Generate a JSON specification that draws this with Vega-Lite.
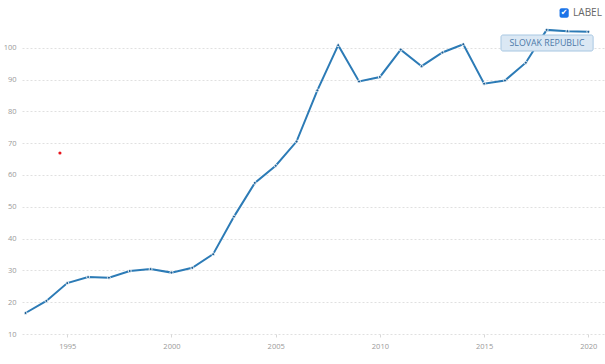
{
  "$schema": "https://vega.github.io/schema/vega-lite/v6.json",
  "width": 583,
  "height": 334,
  "autosize": {"type": "none"},
  "padding": {"left": 22, "top": 0, "right": 0, "bottom": 30},
  "background": "white",
  "config": {
    "view": {"stroke": null},
    "font": "Open Sans",
    "axis": {"labelOverlap": false, "labelFlush": false, "labelBound": false}
  },
  "datasets": {
    "series": [
      {"year": 1993, "value": 16.6},
      {"year": 1994, "value": 20.4},
      {"year": 1995, "value": 26.0},
      {"year": 1996, "value": 27.9},
      {"year": 1997, "value": 27.7},
      {"year": 1998, "value": 29.8},
      {"year": 1999, "value": 30.4},
      {"year": 2000, "value": 29.3},
      {"year": 2001, "value": 30.8},
      {"year": 2002, "value": 35.1},
      {"year": 2003, "value": 46.9},
      {"year": 2004, "value": 57.5},
      {"year": 2005, "value": 62.9},
      {"year": 2006, "value": 70.5},
      {"year": 2007, "value": 86.6},
      {"year": 2008, "value": 100.8},
      {"year": 2009, "value": 89.4},
      {"year": 2010, "value": 90.8},
      {"year": 2011, "value": 99.4},
      {"year": 2012, "value": 94.2},
      {"year": 2013, "value": 98.5},
      {"year": 2014, "value": 101.1},
      {"year": 2015, "value": 88.7},
      {"year": 2016, "value": 89.7},
      {"year": 2017, "value": 95.3},
      {"year": 2018, "value": 105.6},
      {"year": 2019, "value": 105.2},
      {"year": 2020, "value": 105.0}
    ],
    "marker": [
      {"year": 1994.65, "value": 66.9}
    ]
  },
  "encoding": {
    "y": {
      "type": "quantitative",
      "scale": {"domain": [10, 115], "nice": false, "zero": false},
      "axis": {
        "title": null,
        "values": [10, 20, 30, 40, 50, 60, 70, 80, 90, 100],
        "grid": true,
        "gridColor": "#e0e0e0",
        "gridDash": [2, 2],
        "gridWidth": 1,
        "domain": false,
        "ticks": false,
        "labelColor": "#999999",
        "labelFontSize": 7.5,
        "labelPadding": 6,
        "labelOverlap": false
      }
    }
  },
  "layer": [
    {
      "data": {"name": "series"},
      "mark": {"type": "line", "color": "#2c7bb6", "strokeWidth": 2, "clip": false},
      "encoding": {
        "x": {
          "field": "year", "type": "quantitative",
          "scale": {"domain": [1992.83, 2020.8], "nice": false, "zero": false},
          "axis": {
            "title": null,
            "values": [1995, 2000, 2005, 2010, 2015, 2020],
            "format": "d",
            "grid": false,
            "domain": false,
            "ticks": true,
            "tickSize": 3,
            "tickColor": "#d8d8d8",
            "labelColor": "#999999",
            "labelFontSize": 7.5,
            "labelPadding": 5
          }
        },
        "y": {"field": "value", "type": "quantitative"}
      }
    },
    {
      "data": {"name": "series"},
      "mark": {"type": "point", "filled": true, "size": 9, "color": "#1f5f94", "stroke": "white", "strokeWidth": 0.8, "opacity": 1},
      "encoding": {
        "x": {"field": "year", "type": "quantitative"},
        "y": {"field": "value", "type": "quantitative"}
      }
    },
    {
      "data": {"name": "marker"},
      "mark": {"type": "point", "filled": true, "size": 10, "color": "#e8141c", "opacity": 1},
      "encoding": {
        "x": {"field": "year", "type": "quantitative"},
        "y": {"field": "value", "type": "quantitative"}
      }
    },
    {
      "data": {"values": [{"country": "SLOVAK REPUBLIC"}]},
      "mark": {"type": "rect", "fill": "#dbe8f4", "stroke": "#a9c8e3", "strokeWidth": 1, "cornerRadius": 2, "opacity": 1},
      "encoding": {
        "x": {"datum": 2015.81, "type": "quantitative"},
        "x2": {"datum": 2020.23},
        "y": {"datum": 104.0, "type": "quantitative"},
        "y2": {"datum": 98.96}
      }
    },
    {
      "data": {"values": [{"country": "SLOVAK REPUBLIC"}]},
      "mark": {"type": "text", "color": "#4d79a8", "fontSize": 8.8, "align": "center", "baseline": "middle"},
      "encoding": {
        "x": {"datum": 2018.02, "type": "quantitative"},
        "y": {"datum": 101.5, "type": "quantitative"},
        "text": {"field": "country"}
      }
    },
    {
      "data": {"values": [{"label": "LABEL", "check": "✔"}]},
      "mark": {"type": "rect", "fill": "#1a73e8", "cornerRadius": 2, "opacity": 1, "clip": false},
      "encoding": {
        "x": {"datum": 2018.62, "type": "quantitative"},
        "x2": {"datum": 2019.06},
        "y": {"datum": 112.4, "type": "quantitative"},
        "y2": {"datum": 109.4}
      }
    },
    {
      "data": {"values": [{"label": "LABEL", "check": "✔"}]},
      "mark": {"type": "text", "color": "white", "fontSize": 8, "fontWeight": "bold", "align": "center", "baseline": "middle", "font": "DejaVu Sans"},
      "encoding": {
        "x": {"datum": 2018.84, "type": "quantitative"},
        "y": {"datum": 110.9, "type": "quantitative"},
        "text": {"field": "check"}
      }
    },
    {
      "data": {"values": [{"label": "LABEL", "check": "✔"}]},
      "mark": {"type": "text", "color": "#666666", "fontSize": 10, "align": "left", "baseline": "middle"},
      "encoding": {
        "x": {"datum": 2019.27, "type": "quantitative"},
        "y": {"datum": 110.9, "type": "quantitative"},
        "text": {"field": "label"}
      }
    }
  ]
}
